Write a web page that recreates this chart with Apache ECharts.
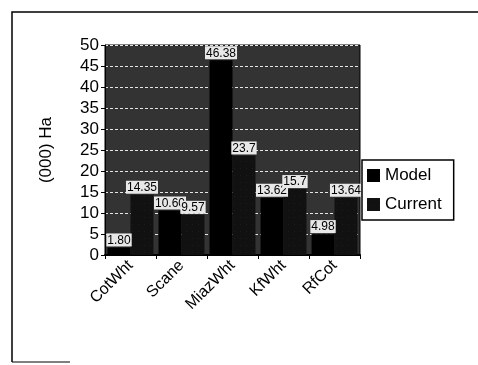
<!DOCTYPE html>
<html><head><meta charset="utf-8">
<script src="https://cdn.jsdelivr.net/npm/echarts@6/dist/echarts.min.js"></script>
<style>html,body{margin:0;padding:0;background:#fff}#c{width:478px;height:365px}</style>
</head><body><div id="c"></div>
<script>
const categories = ['CotWht','Scane','MiazWht','KfWht','RfCot'];
const modelValues = [1.80, 10.60, 46.38, 13.62, 4.98];
const currentValues = [14.35, 9.57, 23.7, 15.7, 13.64];
const modelLabels = ['1.80','10.60','46.38','13.62','4.98'];
const currentLabels = ['14.35','9.57','23.7','15.7','13.64'];
const yTicks = {min:0, max:50, interval:5};

const chart = echarts.init(document.getElementById('c'), null, {renderer:'canvas'});
function lbl(texts){
  return {show:true, position:'top', distance:1, color:'#000', backgroundColor:'#e8e8e8',
    fontFamily:'Liberation Sans', fontSize:12, padding:[1,1,0,1],
    formatter: p => texts[p.dataIndex]};
}
chart.setOption({
  backgroundColor:'#fff',
  animation:false,
  grid:{left:105, right:118, top:45, bottom:110, show:true, backgroundColor:'#333333', borderColor:'#000', borderWidth:1},
  legend:{data:['Model','Current'], orient:'vertical', left:362, top:160, icon:'rect', itemWidth:13, itemHeight:13, itemGap:12,
    textStyle:{fontFamily:'Liberation Sans', fontSize:17, color:'#000'},
    borderColor:'#000', borderWidth:1.5, padding:[7,12,7,5], backgroundColor:'#fff'},
  xAxis:{type:'category', data:categories,
    axisLine:{lineStyle:{color:'#000', width:2}},
    axisTick:{show:true, length:4, lineStyle:{color:'#000'}},
    axisLabel:{rotate:45, color:'#000', fontFamily:'Liberation Sans', fontSize:16, margin:8, interval:0}},
  yAxis:{type:'value', min:yTicks.min, max:yTicks.max, interval:yTicks.interval,
    name:'(000) Ha', nameLocation:'middle', nameGap:50, nameRotate:90,
    nameTextStyle:{fontFamily:'Liberation Sans', fontSize:17, color:'#000'},
    axisLine:{show:true, lineStyle:{color:'#000'}},
    axisTick:{show:true, length:4, lineStyle:{color:'#000'}},
    axisLabel:{color:'#000', fontFamily:'Liberation Sans', fontSize:17, margin:6},
    splitLine:{show:true, lineStyle:{color:'#e6e6e6', type:[3,2], width:1}}},
  series:[
    {name:'Model', type:'bar', data:modelValues, barGap:'0%', barCategoryGap:'10%',
     itemStyle:{color:'#000'}, label:lbl(modelLabels)},
    {name:'Current', type:'bar', data:currentValues,
     itemStyle:{color:'#111', decal:{symbol:'rect', symbolSize:0.5, color:'rgba(255,255,255,0.2)', dashArrayX:[1,5], dashArrayY:[1,6]}},
     label:lbl(currentLabels)}
  ],
  graphic:[
    {type:'polyline', shape:{points:[[12,362],[12,12],[478,12]]}, style:{stroke:'#000', lineWidth:1.5, fill:null}},
    {type:'line', shape:{x1:12,y1:362,x2:70,y2:362}, style:{stroke:'#000', lineWidth:1}}
  ]
});
</script></body></html>
